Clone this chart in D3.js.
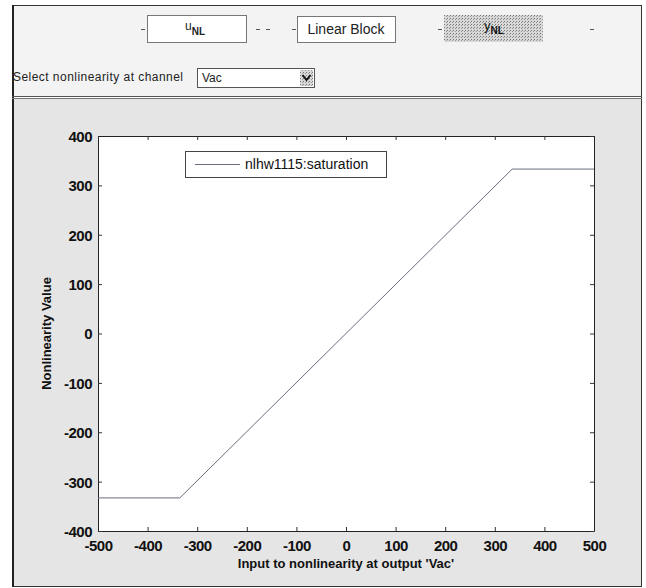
<!DOCTYPE html>
<html>
<head>
<meta charset="utf-8">
<script src="https://cdn.jsdelivr.net/npm/d3@7"></script>
<style>
  body { margin: 0; background: #fff; }
  svg { display: block; font-family: "Liberation Sans", Arial, sans-serif; }
</style>
</head>
<body>
<div id="chart"></div>
<script>
// nonlinearity curve (saturation)
var inputVals  = [-500, -335, 335, 500];
var outputVals = [-333, -333, 333, 333];

var xTicks = [-500, -400, -300, -200, -100, 0, 100, 200, 300, 400, 500];
var yTicks = [-400, -300, -200, -100, 0, 100, 200, 300, 400];

var legendLabel = "nlhw1115:saturation";
var xLabel = "Input to nonlinearity at output 'Vac'";
var yLabel = "Nonlinearity Value";
var channelName = "Vac";

var width = 646, height = 588;

var svg = d3.select("#chart")
    .append("svg")
    .attr("width", width)
    .attr("height", height);

var defs = svg.append("defs");
var pat = defs.append("pattern")
    .attr("id", "hatch")
    .attr("width", 3)
    .attr("height", 3)
    .attr("patternUnits", "userSpaceOnUse");
pat.append("rect").attr("width", 3).attr("height", 3).attr("fill", "#d8d8d8");
pat.append("rect").attr("width", 1).attr("height", 1).attr("fill", "#777");
pat.append("rect").attr("x", 2).attr("y", 1).attr("width", 1).attr("height", 1).attr("fill", "#999");

// window background
svg.append("rect")
    .attr("x", 12).attr("y", 5)
    .attr("width", 630).attr("height", 92)
    .attr("fill", "#f3f3f3");
svg.append("rect")
    .attr("x", 12).attr("y", 98)
    .attr("width", 630).attr("height", 488)
    .attr("fill", "#e5e5e5");

// frame
svg.append("rect")
    .attr("x", 12.5).attr("y", 5.5)
    .attr("width", 629).attr("height", 581)
    .attr("fill", "none")
    .attr("stroke", "#333")
    .attr("stroke-width", 1);
svg.append("line")
    .attr("x1", 13).attr("x2", 13).attr("y1", 5).attr("y2", 587)
    .attr("stroke", "#222").attr("stroke-width", 2);
svg.append("line")
    .attr("x1", 12).attr("x2", 642).attr("y1", 96.5).attr("y2", 96.5)
    .attr("stroke", "#555");
svg.append("line")
    .attr("x1", 12).attr("x2", 642).attr("y1", 98.5).attr("y2", 98.5)
    .attr("stroke", "#777");

// ---- block diagram row ----
var bar = svg.append("g");
var dashes = [141, 256, 266, 292, 438, 590];
bar.selectAll("line.dash")
    .data(dashes)
    .enter()
    .append("line")
    .attr("class", "dash")
    .attr("x1", function (d) { return d; })
    .attr("x2", function (d) { return d + 4; })
    .attr("y1", 29.5).attr("y2", 29.5)
    .attr("stroke", "#555");

bar.append("rect")
    .attr("x", 147.5).attr("y", 15.5).attr("width", 99).attr("height", 27)
    .attr("fill", "#fff").attr("stroke", "#777");
var u = bar.append("text").attr("x", 185).attr("y", 30).attr("font-size", 12).attr("fill", "#222");
u.append("tspan").text("u");
u.append("tspan").attr("dy", 5).attr("font-size", 10).attr("font-weight", "bold").text("NL");

bar.append("rect")
    .attr("x", 297.5).attr("y", 16.5).attr("width", 98).attr("height", 26)
    .attr("fill", "#fff").attr("stroke", "#777");
bar.append("text")
    .attr("x", 346).attr("y", 34)
    .attr("text-anchor", "middle")
    .attr("font-size", 14)
    .attr("fill", "#222")
    .text("Linear Block");

bar.append("rect")
    .attr("x", 444).attr("y", 15).attr("width", 99).attr("height", 27)
    .attr("fill", "url(#hatch)");
var yn = bar.append("text").attr("x", 484).attr("y", 30).attr("font-size", 13).attr("fill", "#111");
yn.append("tspan").text("y");
yn.append("tspan").attr("dy", 4).attr("font-size", 10).attr("font-weight", "bold").text("NL");

// channel selector
bar.append("text")
    .attr("x", 13).attr("y", 81)
    .attr("font-size", 12)
    .attr("textLength", 170)
    .attr("fill", "#222")
    .text("Select nonlinearity at channel");
bar.append("rect")
    .attr("x", 197.5).attr("y", 68.5).attr("width", 117).attr("height", 19)
    .attr("fill", "#fff").attr("stroke", "#555");
bar.append("text")
    .attr("x", 202).attr("y", 82)
    .attr("font-size", 12)
    .attr("fill", "#222")
    .text(channelName);
bar.append("rect")
    .attr("x", 300).attr("y", 70).attr("width", 13).attr("height", 16)
    .attr("fill", "url(#hatch)");
bar.append("path")
    .attr("d", "M302.5,75 L306.5,80 L310.5,75")
    .attr("fill", "none").attr("stroke", "#111").attr("stroke-width", 2);

// ---- plot ----
var x = d3.scaleLinear().domain([-500, 500]).range([98, 594]);
var y = d3.scaleLinear().domain([-400, 400]).range([531, 136]);
var fmt = function (d) { return String(d); };  // plain hyphen minus, like MATLAB

var plot = svg.append("g");
plot.append("rect")
    .attr("x", x(-500)).attr("y", y(400))
    .attr("width", x(500) - x(-500))
    .attr("height", y(-400) - y(400))
    .attr("fill", "#fff");

// bottom / left axes with labels, top / right axes ticks only (inside)
var axB = plot.append("g")
    .attr("transform", "translate(0," + y(-400) + ")")
    .call(d3.axisBottom(x).tickValues(xTicks).tickFormat(fmt).tickSizeInner(-4).tickSizeOuter(0).tickPadding(9));
var axL = plot.append("g")
    .attr("transform", "translate(" + x(-500) + ",0)")
    .call(d3.axisLeft(y).tickValues(yTicks).tickFormat(fmt).tickSizeInner(-4).tickSizeOuter(0).tickPadding(6));
var axT = plot.append("g")
    .attr("transform", "translate(0," + y(400) + ")")
    .call(d3.axisTop(x).tickValues(xTicks).tickSizeInner(-4).tickSizeOuter(0).tickFormat(""));
var axR = plot.append("g")
    .attr("transform", "translate(" + x(500) + ",0)")
    .call(d3.axisRight(y).tickValues(yTicks).tickSizeInner(-4).tickSizeOuter(0).tickFormat(""));

[axB, axL, axT, axR].forEach(function (a) {
    a.select(".domain").attr("stroke", "#222");
    a.selectAll(".tick line").attr("stroke", "#333");
    a.selectAll("text")
        .attr("font-size", 15)
        .attr("font-weight", "bold")
        .attr("font-family", "'Liberation Sans', Arial, sans-serif")
        .attr("letter-spacing", -0.5)
        .attr("fill", "#111");
});
axL.selectAll(".tick text").attr("dy", "0.36em");

// curve
var pts = inputVals.map(function (d, i) { return [d, outputVals[i]]; });
var line = d3.line()
    .x(function (d) { return x(d[0]); })
    .y(function (d) { return y(d[1]); });
plot.append("path")
    .datum(pts)
    .attr("d", line)
    .attr("fill", "none")
    .attr("stroke", "#6a6e82")
    .attr("stroke-width", 1);

// legend
var lg = plot.append("g");
lg.append("rect")
    .attr("x", 185.5).attr("y", 151.5).attr("width", 201).attr("height", 26)
    .attr("fill", "#fff").attr("stroke", "#444");
lg.append("line")
    .attr("x1", 195).attr("x2", 240).attr("y1", 164.5).attr("y2", 164.5)
    .attr("stroke", "#6a6e82");
lg.append("text")
    .attr("x", 245).attr("y", 169)
    .attr("font-size", 14)
    .attr("fill", "#111")
    .text(legendLabel);

// axis titles
plot.append("text")
    .attr("x", 346).attr("y", 568)
    .attr("text-anchor", "middle")
    .attr("font-size", 13)
    .attr("font-weight", "bold")
    .attr("fill", "#111")
    .text(xLabel);
plot.append("text")
    .attr("transform", "translate(51," + y(0) + ") rotate(-90)")
    .attr("text-anchor", "middle")
    .attr("font-size", 13)
    .attr("font-weight", "bold")
    .attr("fill", "#111")
    .text(yLabel);
</script>
</body>
</html>
